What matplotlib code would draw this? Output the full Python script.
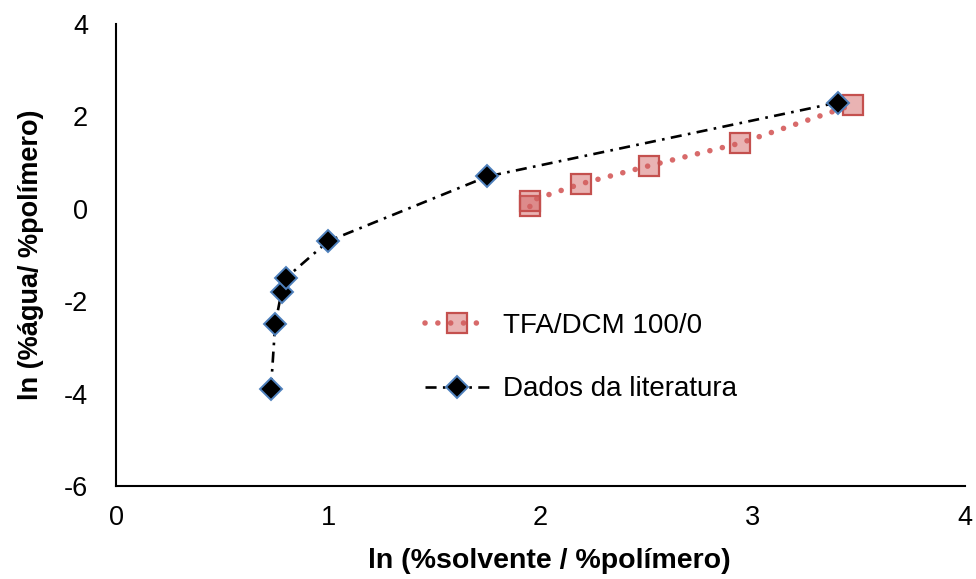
import matplotlib
matplotlib.use("Agg")
from matplotlib import pyplot as plt

plt.rcParams['font.family'] = ['Liberation Sans', 'DejaVu Sans']
plt.rcParams['axes.unicode_minus'] = False

# TFA/DCM 100/0 series
tfa_x = [1.95, 1.95, 2.19, 2.51, 2.94, 3.47]
tfa_y = [0.05, 0.17, 0.54, 0.93, 1.42, 2.25]

# literature data
lit_x = [0.73, 0.75, 0.78, 0.80, 1.00, 1.75, 3.40]
lit_y = [-3.9, -2.5, -1.8, -1.5, -0.7, 0.7, 2.3]

fig = plt.figure(figsize=(9.76, 5.79), dpi=100)
ax = fig.add_axes([116/976, 1-486/579, (965-116)/976, (486-24)/579])

ax.plot(tfa_x, tfa_y, linestyle=(0, (0.01, 2.3)), dash_capstyle='round',
        linewidth=4, color='#d86a6a', marker='s', markersize=14.5,
        markerfacecolor=(0.82, 0.38, 0.38, 0.48), markeredgecolor='#c4504e',
        markeredgewidth=1.6, label='TFA/DCM 100/0')
ax.plot(lit_x, lit_y, linestyle=(0, (4.2, 2.4, 1, 2.4)), linewidth=1.9,
        color='black', marker='D', markersize=11,
        markerfacecolor='black', markeredgecolor='#4f81bd',
        markeredgewidth=1.4, label='Dados da literatura')

ax.set_xlim(0, 4)
ax.set_ylim(-6, 4)
ax.set_xticks([0, 1, 2, 3, 4])
ax.set_yticks([-6, -4, -2, 0, 2, 4])
ax.tick_params(length=0, labelsize=19.5)
ax.tick_params(axis='x', pad=14)
ax.tick_params(axis='y', pad=20)
for s in ['top', 'right']:
    ax.spines[s].set_visible(False)
for s in ['left', 'bottom']:
    ax.spines[s].set_linewidth(1.5)
ax.set_xlabel('ln (%solvente / %polímero)', fontsize=20.5, fontweight='bold')
ax.set_ylabel('ln (%água/ %polímero)', fontsize=19.5, fontweight='bold')
ax.xaxis.set_label_coords(0.51, -0.135)
ax.yaxis.set_label_coords(-0.085, 0.5)

ax.legend(loc='center left', bbox_to_anchor=(0.364, 0.278), frameon=False,
          fontsize=20, handlelength=2.3, labelspacing=1.35, handletextpad=0.5,
          borderpad=0, borderaxespad=0)

fig.savefig('out.png', dpi=100)
